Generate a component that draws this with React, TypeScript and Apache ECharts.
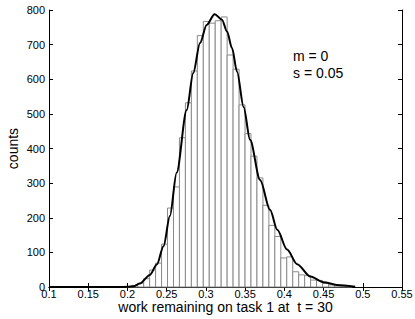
import React, { useEffect, useRef } from "react";
import * as echarts from "echarts";

// Histogram bins: left edge, right edge, counts
const binLeft = [
  0.1979, 0.2055, 0.2131, 0.2207, 0.2283, 0.2359, 0.2435, 0.2511, 0.2587, 0.2663,
  0.2739, 0.2815, 0.2891, 0.2967, 0.3043, 0.3119, 0.3195, 0.3271, 0.3347, 0.3423,
  0.3499, 0.3575, 0.3651, 0.3727, 0.3803, 0.3879, 0.3955, 0.4031, 0.4107, 0.4183,
  0.4259, 0.4335, 0.4411, 0.4487, 0.4563, 0.4639, 0.4715, 0.4791,
];
const binWidth = 0.0076;
const counts = [
  1, 4, 11, 24, 49, 69, 124, 228, 289, 431,
  532, 624, 726, 767, 762, 769, 780, 670, 629, 526,
  443, 378, 315, 236, 178, 146, 84, 87, 44, 35,
  33, 20, 19, 10, 6, 3, 2, 1,
];

// Fitted curve
const curveX = [
  0.1, 0.19, 0.2, 0.2077, 0.2158, 0.2286, 0.2375, 0.246, 0.2541, 0.2627,
  0.2755, 0.2839, 0.2925, 0.301, 0.3111, 0.3205, 0.3269, 0.3333, 0.3397, 0.3481,
  0.3563, 0.3691, 0.3818, 0.391, 0.4035, 0.4163, 0.4333, 0.45, 0.467, 0.4904,
];
const curveY = [
  0, 0, 0.5, 2, 10, 35, 65, 118, 205, 330,
  511, 618, 705, 757, 788, 772, 738, 690, 622, 520,
  425, 309, 223, 165, 108, 66, 30, 14, 6, 1,
];

const xTicks = { min: 0.1, max: 0.55, interval: 0.05 };
const yTicks = { min: 0, max: 800, interval: 100 };
const xLabel = "work remaining on task 1 at  t = 30";
const yLabel = "counts";
const annotations = ["m = 0", "s = 0.05"];

const FONT = "'Liberation Sans', Arial, Helvetica, sans-serif";

export default function App() {
  const ref = useRef<HTMLDivElement>(null);
  useEffect(() => {
    if (!ref.current) return;
    const chart = echarts.init(ref.current, undefined, { renderer: "svg" });
    const histData = binLeft.map((l, i) => [l, l + binWidth, counts[i]]);
    const lineData = curveX.map((x, i) => [x, curveY[i]]);
    const boxAxis = {
      axisLine: { show: true, lineStyle: { color: "#000", width: 1 } },
      axisTick: { show: true, inside: true, length: 4, lineStyle: { color: "#000" } },
      splitLine: { show: false },
    };
    chart.setOption({
      animation: false,
      grid: { left: 49, right: 13, top: 10, bottom: 32, containLabel: false, outerBoundsMode: "none" },
      xAxis: [
        {
          type: "value",
          ...xTicks,
          position: "bottom",
          ...boxAxis,
          axisLabel: { color: "#000", fontSize: 11, lineHeight: 10, fontFamily: FONT, margin: 2 },
          name: xLabel,
          nameLocation: "middle",
          nameGap: 13,
          nameMoveOverlap: false,
          nameTextStyle: {
            color: "#000",
            fontSize: 14,
            lineHeight: 14,
            fontFamily: FONT,
            verticalAlign: "top",
          },
        },
        {
          type: "value",
          ...xTicks,
          position: "top",
          ...boxAxis,
          axisLabel: { show: false },
        },
      ],
      yAxis: [
        {
          type: "value",
          ...yTicks,
          position: "left",
          ...boxAxis,
          axisLabel: { color: "#000", fontSize: 11, lineHeight: 11, fontFamily: FONT, margin: 4 },
          name: yLabel,
          nameLocation: "middle",
          nameGap: 29,
          nameMoveOverlap: false,
          nameTextStyle: { color: "#000", fontSize: 14, fontFamily: FONT },
        },
        {
          type: "value",
          ...yTicks,
          position: "right",
          ...boxAxis,
          axisLabel: { show: false },
        },
      ],
      graphic: [
        {
          type: "text",
          left: 293,
          top: 49,
          style: { text: annotations[0], fill: "#000", font: `14px ${FONT}` },
        },
        {
          type: "text",
          left: 293,
          top: 66,
          style: { text: annotations[1], fill: "#000", font: `14px ${FONT}` },
        },
      ],
      series: [
        {
          type: "custom",
          xAxisIndex: 0,
          yAxisIndex: 0,
          encode: { x: [0, 1], y: 2 },
          data: histData,
          renderItem: (params: any, api: any) => {
            const p0 = api.coord([api.value(0), api.value(2)]);
            const p1 = api.coord([api.value(1), 0]);
            return {
              type: "rect",
              shape: { x: p0[0], y: p0[1], width: p1[0] - p0[0], height: p1[1] - p0[1] },
              style: { fill: "#fff", stroke: "#8a8a8a", lineWidth: 1 },
            };
          },
          z: 1,
        },
        {
          type: "line",
          xAxisIndex: 0,
          yAxisIndex: 0,
          data: lineData,
          smooth: 0.3,
          smoothMonotone: "x",
          showSymbol: false,
          symbol: "none",
          lineStyle: { color: "#000", width: 2 },
          z: 3,
        },
      ],
    });
    return () => chart.dispose();
  }, []);
  return (
    <div
      ref={ref}
      style={{ position: "fixed", left: 0, top: 0, width: 415, height: 319, background: "#fff" }}
    />
  );
}
